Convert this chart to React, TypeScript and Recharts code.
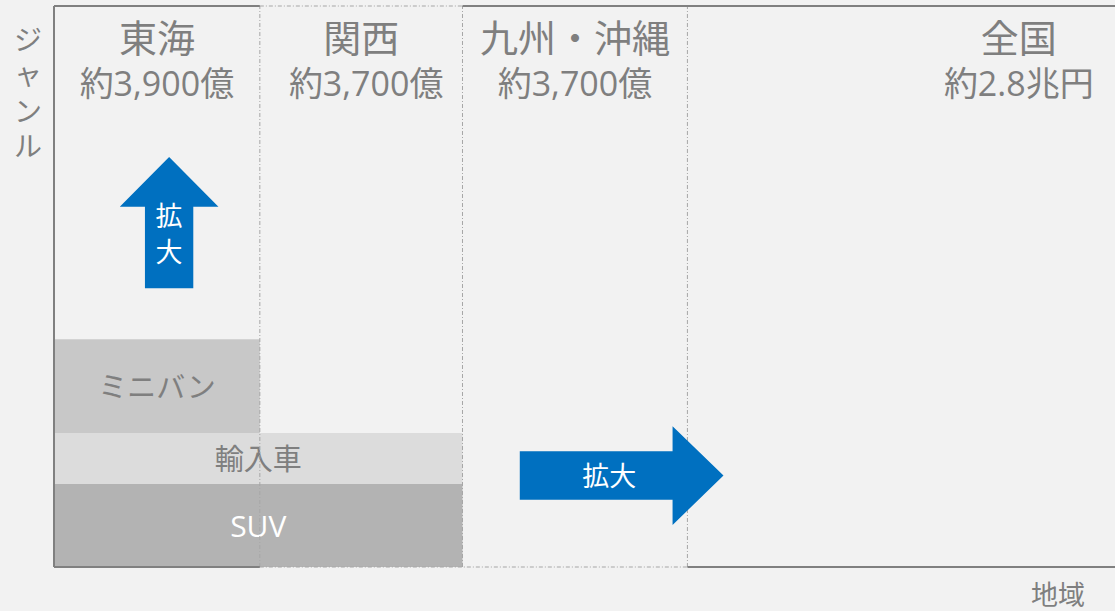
import React from 'react';
import { ComposedChart, XAxis, YAxis, ReferenceArea, ReferenceLine } from 'recharts';

// Regions (x axis, 0-100 share of the plot width)
const regionNames = ['東海', '関西', '九州・沖縄', '全国'];
const regionSizes = ['約3,900億', '約3,700億', '約3,700億', '約2.8兆円'];
const regionEdges = [0, 19.4, 38.5, 59.7, 100];

// Genres (y axis, 0-100 share of the plot height)
const genreNames = ['SUV', '輸入車', 'ミニバン'];
const genreLow = [0, 14.8, 23.9];
const genreHigh = [14.8, 23.9, 40.6];
const genreReach = [2, 2, 1]; // number of regions covered, from the left

// Expansion arrows
const arrowLabels = ['拡大', '拡大'];
const arrowDirs = ['up', 'right'];
const arrowX1 = [6.2, 43.9];
const arrowX2 = [15.5, 63.1];
const arrowY1 = [49.7, 7.5];
const arrowY2 = [73.1, 25.1];

const axisNames = { y: 'ジャンル', x: '地域' };

const FONT = "'Open Sans', 'Noto Sans CJK JP', sans-serif";
const GRAY_TEXT = '#7f7f7f';
const BLUE = '#0070c0';
const genreFills = ['#b3b3b3', '#dcdcdc', '#c8c8c8'];
const genreText = ['#ffffff', GRAY_TEXT, GRAY_TEXT];
const FRAME = '#808080';
const DOT = '#a6a6a6';

const chartData = regionNames.map((name, i) => ({ name, x: (regionEdges[i] + regionEdges[i + 1]) / 2 }));

const makeArrow = (dir: string, label: string) => (props: any) => {
  const { x, y, width, height } = props;
  if (dir === 'up') {
    const sw = width * 0.49;
    const hl = height * 0.38;
    const cx = x + width / 2;
    const pts = [
      [cx, y], [x + width, y + hl], [cx + sw / 2, y + hl], [cx + sw / 2, y + height],
      [cx - sw / 2, y + height], [cx - sw / 2, y + hl], [x, y + hl],
    ];
    return (
      <g>
        <polygon points={pts.map((p) => p.join(',')).join(' ')} fill={BLUE} />
        {label.split('').map((ch, k) => (
          <text key={k} x={cx} y={y + hl + 9 + k * 36} textAnchor="middle" dominantBaseline="central"
            fill="#ffffff" fontSize={27} fontFamily={FONT}>{ch}</text>
        ))}
      </g>
    );
  }
  const sh = height * 0.49;
  const hl = width * 0.25;
  const cy = y + height / 2;
  const pts = [
    [x + width, cy], [x + width - hl, y + height], [x + width - hl, cy + sh / 2], [x, cy + sh / 2],
    [x, cy - sh / 2], [x + width - hl, cy - sh / 2], [x + width - hl, y],
  ];
  return (
    <g>
      <polygon points={pts.map((p) => p.join(',')).join(' ')} fill={BLUE} />
      <text x={x + (width - hl) / 2 + 13} y={cy} textAnchor="middle" dominantBaseline="central"
        fill="#ffffff" fontSize={27} fontFamily={FONT}>{label}</text>
    </g>
  );
};

const regionLabel = (i: number) => (props: any) => {
  const vb = props.viewBox || {};
  const cx = i === 3 ? vb.x + vb.width * 0.775 : vb.x + vb.width / 2;
  return (
    <g>
      <text x={cx} y={vb.y + 31} textAnchor="middle" dominantBaseline="central" fill={GRAY_TEXT}
        fontSize={38} fontFamily={FONT}>{regionNames[i]}</text>
      <text x={cx + (i === 1 ? 5 : 0)} y={vb.y + 77} textAnchor="middle" dominantBaseline="central" fill={GRAY_TEXT}
        fontSize={34} fontFamily={FONT}>{regionSizes[i]}</text>
    </g>
  );
};

const genreLabel = (i: number) => (props: any) => {
  const vb = props.viewBox || {};
  return (
    <text x={vb.x + vb.width / 2} y={vb.y + vb.height / 2} textAnchor="middle" dominantBaseline="central"
      fill={genreText[i]} fontSize={i === 0 ? 30 : 29} fontFamily={FONT}>{genreNames[i]}</text>
  );
};

const axisLabels = (props: any) => {
  const vb = props.viewBox || {};
  const ys = [33, 68, 105, 140];
  return (
    <g>
      {axisNames.y.split('').map((ch, k) => (
        <text key={k} x={vb.x - 26} y={vb.y + ys[k]} textAnchor="middle" dominantBaseline="central"
          fill={GRAY_TEXT} fontSize={28} fontFamily={FONT}>{ch}</text>
      ))}
      <text x={vb.x + vb.width - 57} y={vb.y + vb.height + 27} textAnchor="middle" dominantBaseline="central"
        fill={GRAY_TEXT} fontSize={27} fontFamily={FONT}>{axisNames.x}</text>
    </g>
  );
};

export default function App() {
  return (
    <div style={{ position: 'absolute', left: 0, top: 0, width: 1115, height: 611, background: '#f2f2f2', overflow: 'hidden' }}>
      <ComposedChart width={1115} height={611} data={chartData} margin={{ top: 6, right: 0, bottom: 44, left: 54 }}>
        <XAxis type="number" dataKey="x" domain={[0, 100]} hide allowDataOverflow />
        <YAxis type="number" domain={[0, 100]} hide allowDataOverflow />

        {genreNames.map((g, i) => (
          <ReferenceArea key={'g' + i} x1={0} x2={regionEdges[genreReach[i]]} y1={genreLow[i]} y2={genreHigh[i]}
            fill={genreFills[i]} fillOpacity={1} stroke="none" label={genreLabel(i)} isAnimationActive={false} />
        ))}

        {regionNames.map((r, i) => (
          <ReferenceArea key={'r' + i} x1={regionEdges[i]} x2={regionEdges[i + 1]} y1={0} y2={100}
            fill="none" fillOpacity={0} stroke="none" label={regionLabel(i)} />
        ))}

        <ReferenceArea x1={0} x2={100} y1={0} y2={100} fill="none" fillOpacity={0} stroke="none" label={axisLabels} />

        {regionEdges.slice(1, 4).map((e, i) => (
          <ReferenceLine key={'d' + i} x={e} stroke={DOT} strokeWidth={1} strokeDasharray="4 2 1 2" />
        ))}
        <ReferenceLine segment={[{ x: regionEdges[1], y: 100 }, { x: regionEdges[2], y: 100 }]} stroke={DOT} strokeWidth={1} strokeDasharray="4 2 1 2" />
        <ReferenceLine segment={[{ x: regionEdges[1], y: 0 }, { x: regionEdges[3], y: 0 }]} stroke={DOT} strokeWidth={1} strokeDasharray="4 2 1 2" />

        <ReferenceLine segment={[{ x: 0, y: 0 }, { x: 0, y: 100 }]} stroke={FRAME} strokeWidth={2} />
        <ReferenceLine segment={[{ x: 0, y: 100 }, { x: regionEdges[1], y: 100 }]} stroke={FRAME} strokeWidth={2} />
        <ReferenceLine segment={[{ x: regionEdges[2], y: 100 }, { x: 100, y: 100 }]} stroke={FRAME} strokeWidth={2} />
        <ReferenceLine segment={[{ x: 0, y: 0 }, { x: regionEdges[1], y: 0 }]} stroke={FRAME} strokeWidth={2} />
        <ReferenceLine segment={[{ x: regionEdges[3], y: 0 }, { x: 100, y: 0 }]} stroke={FRAME} strokeWidth={2} />

        {arrowDirs.map((d, i) => (
          <ReferenceArea key={'a' + i} x1={arrowX1[i]} x2={arrowX2[i]} y1={arrowY1[i]} y2={arrowY2[i]}
            fill={BLUE} fillOpacity={1} zIndex={1500} shape={makeArrow(d, arrowLabels[i])} />
        ))}
      </ComposedChart>
    </div>
  );
}
